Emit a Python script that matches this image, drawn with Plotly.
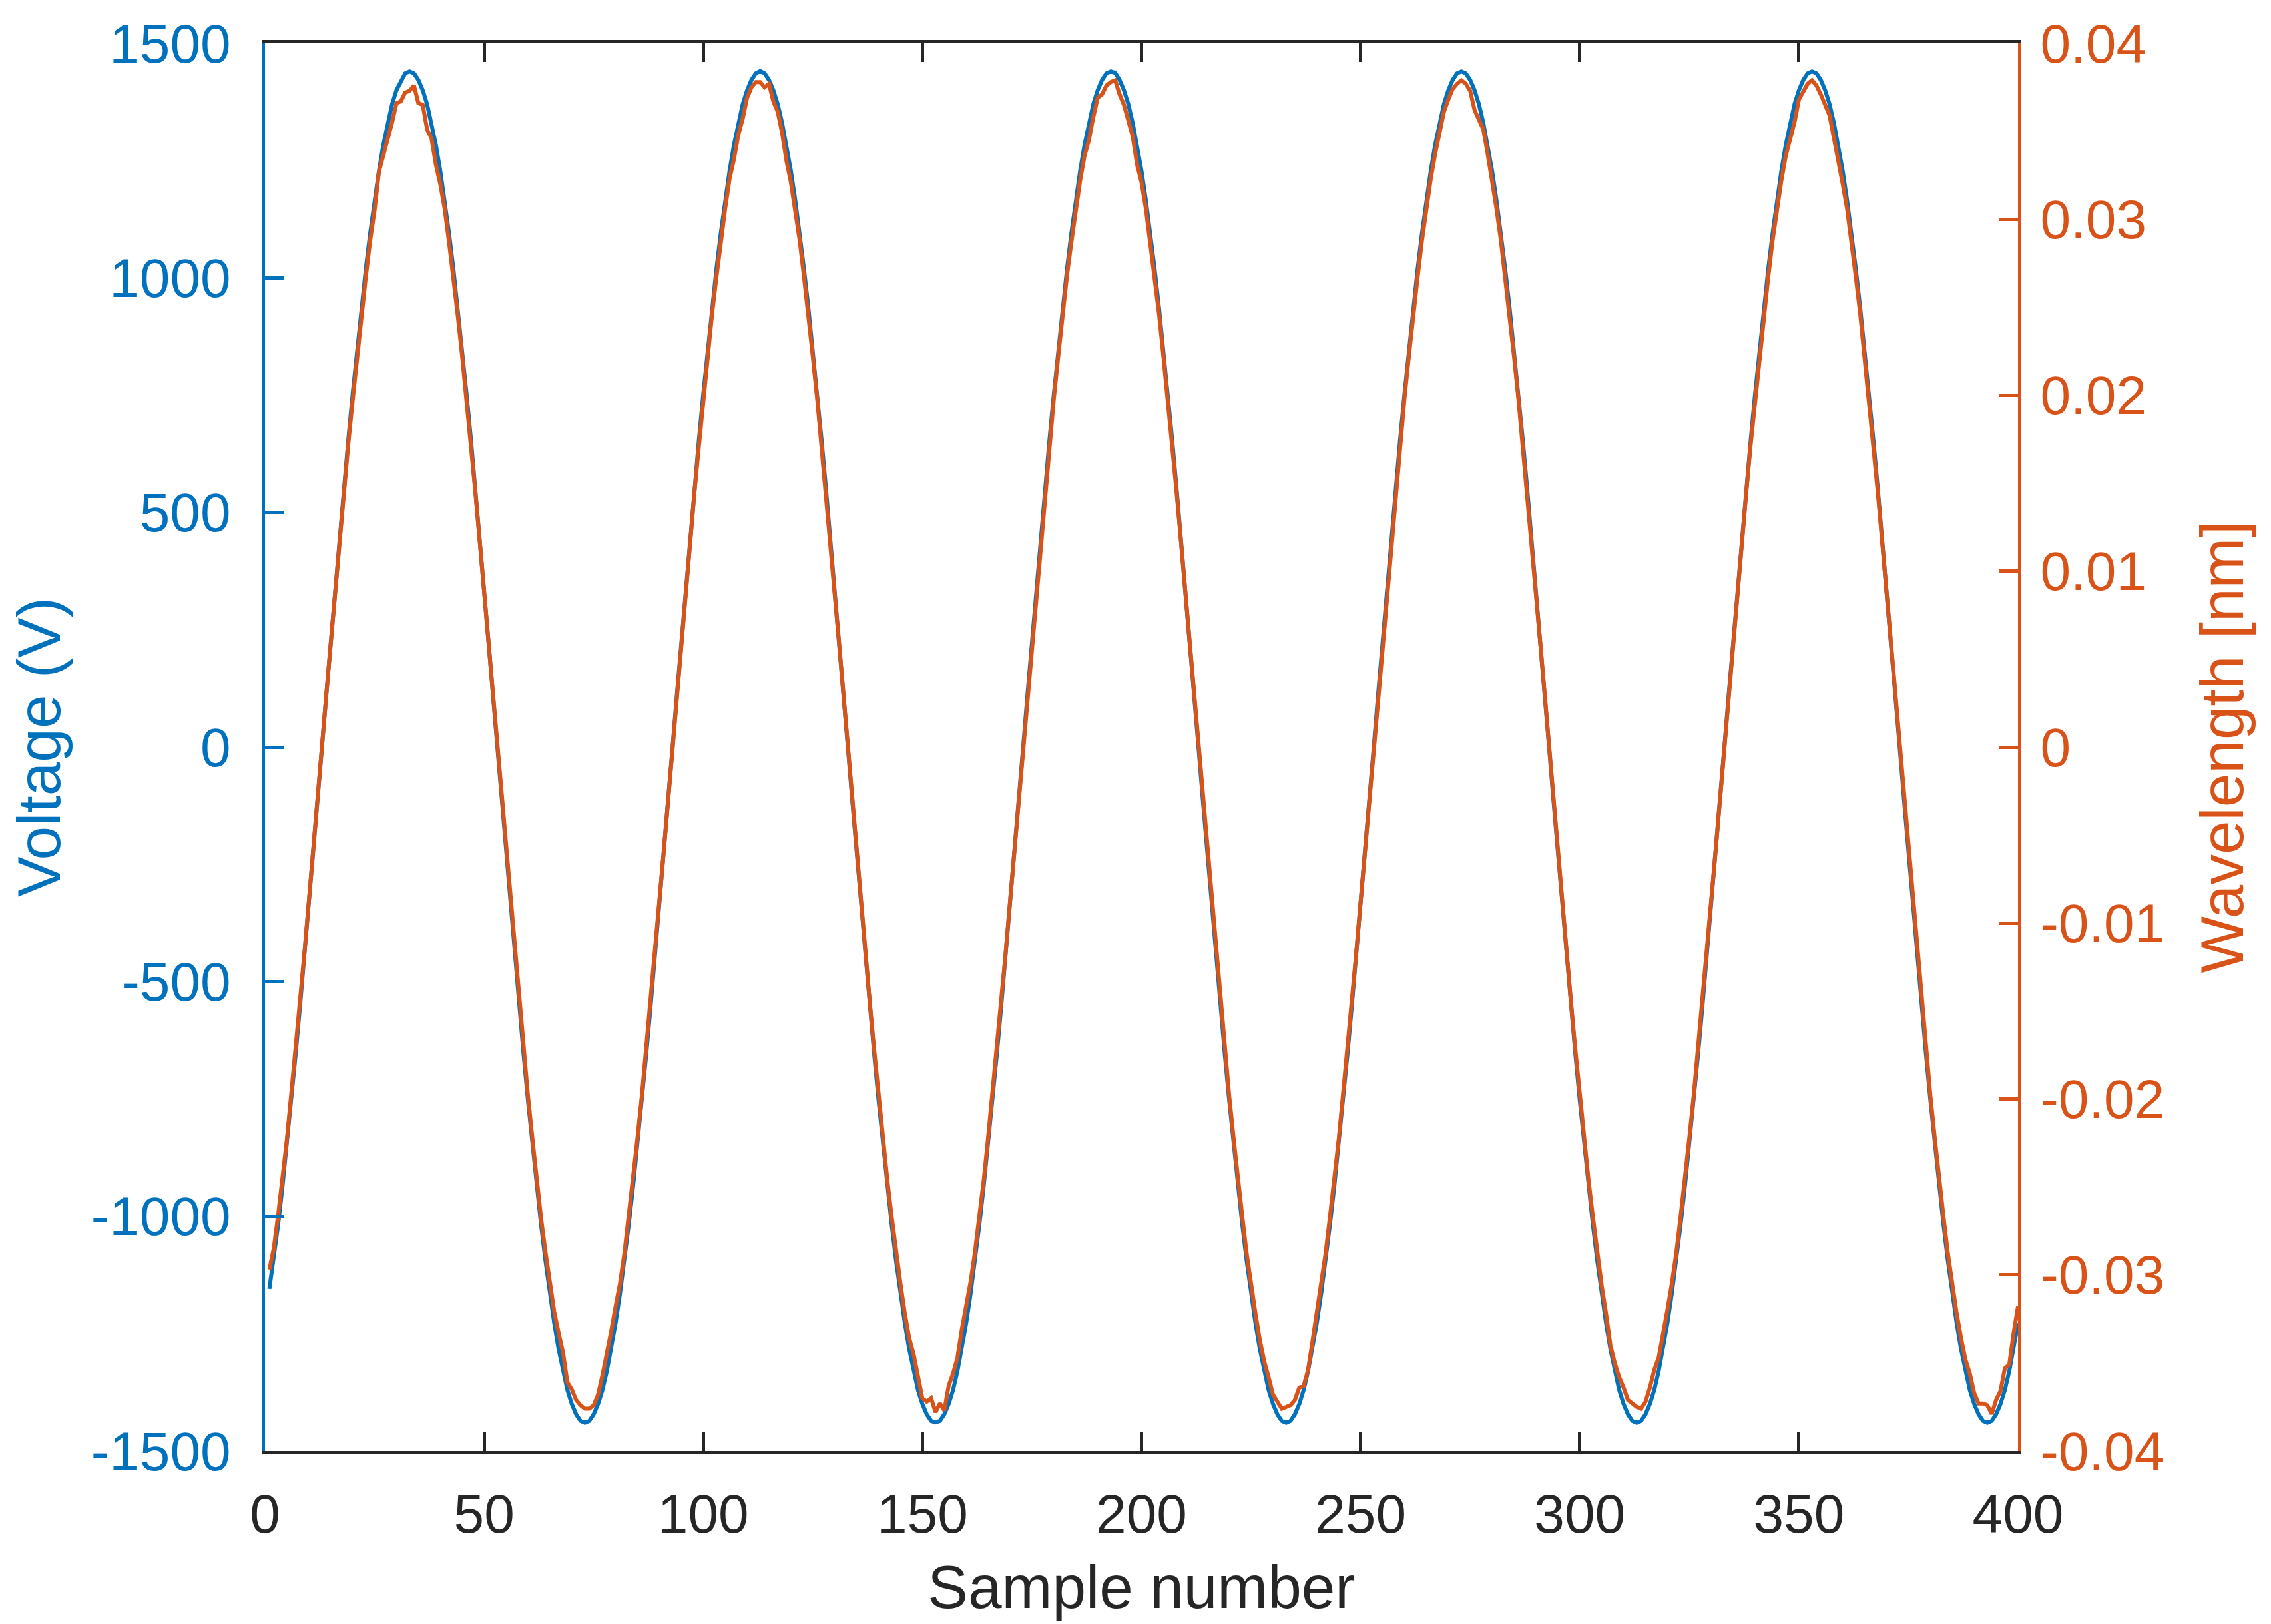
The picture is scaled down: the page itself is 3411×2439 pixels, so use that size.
import plotly.graph_objects as go

# sample index of the acquisition
sample_number = list(range(1, 401))

# voltage applied (V), one value per sample
voltage = [
    -1155, -1093, -1018, -935, -846, -752, -654, -551, -445, -336, -225, -113, 0, 113, 225, 336, 445, 551, 654, 752,
    846, 935, 1018, 1095, 1165, 1228, 1283, 1330, 1370, 1400, 1420, 1436, 1440, 1436, 1422, 1400, 1370, 1330, 1283, 1228,
    1165, 1095, 1018, 935, 846, 752, 654, 551, 445, 336, 225, 113, 0, -113, -225, -336, -445, -551, -654, -752,
    -846, -935, -1018, -1095, -1165, -1228, -1283, -1330, -1370, -1400, -1422, -1436, -1440, -1436, -1422, -1400, -1370, -1330, -1283, -1228,
    -1165, -1095, -1018, -935, -846, -752, -654, -551, -445, -336, -225, -113, 0, 113, 225, 336, 445, 551, 654, 752,
    846, 935, 1018, 1095, 1165, 1228, 1283, 1330, 1370, 1400, 1422, 1436, 1441, 1436, 1422, 1400, 1370, 1330, 1283, 1228,
    1165, 1095, 1018, 935, 846, 752, 654, 551, 445, 336, 225, 113, 0, -113, -225, -336, -445, -551, -654, -752,
    -846, -935, -1018, -1095, -1165, -1228, -1283, -1330, -1370, -1400, -1422, -1436, -1439, -1436, -1422, -1400, -1370, -1330, -1283, -1228,
    -1165, -1095, -1018, -935, -846, -752, -654, -551, -445, -336, -225, -113, 0, 113, 225, 336, 445, 551, 654, 752,
    846, 935, 1018, 1095, 1165, 1228, 1283, 1330, 1370, 1400, 1422, 1436, 1440, 1437, 1422, 1400, 1370, 1330, 1283, 1228,
    1165, 1095, 1018, 935, 846, 752, 654, 551, 445, 336, 225, 113, 0, -113, -225, -336, -445, -551, -654, -752,
    -846, -935, -1018, -1095, -1165, -1228, -1283, -1330, -1370, -1400, -1422, -1436, -1440, -1436, -1422, -1400, -1370, -1330, -1283, -1228,
    -1165, -1095, -1018, -935, -846, -752, -654, -551, -445, -336, -225, -113, 0, 113, 225, 336, 445, 551, 654, 752,
    846, 935, 1018, 1095, 1165, 1228, 1283, 1330, 1370, 1400, 1422, 1436, 1440, 1436, 1422, 1400, 1370, 1330, 1283, 1228,
    1165, 1095, 1018, 935, 846, 752, 654, 551, 445, 336, 225, 113, 0, -113, -225, -336, -445, -551, -654, -752,
    -846, -935, -1018, -1095, -1165, -1228, -1283, -1330, -1370, -1400, -1422, -1436, -1440, -1436, -1422, -1400, -1370, -1330, -1283, -1228,
    -1165, -1095, -1018, -935, -846, -752, -654, -551, -445, -336, -225, -113, 0, 113, 225, 336, 445, 551, 654, 752,
    846, 935, 1018, 1095, 1165, 1228, 1283, 1330, 1370, 1400, 1422, 1436, 1440, 1436, 1422, 1400, 1370, 1330, 1283, 1228,
    1165, 1095, 1018, 935, 846, 752, 654, 551, 445, 336, 225, 113, 0, -113, -225, -336, -445, -551, -654, -752,
    -846, -935, -1018, -1095, -1165, -1228, -1283, -1330, -1370, -1400, -1422, -1436, -1440, -1436, -1422, -1400, -1370, -1330, -1283, -1228,
]

# measured wavelength shift (nm), orange trace
wavelength = [
    -0.0297, -0.0285, -0.0266, -0.0245, -0.0223, -0.0197, -0.0172, -0.0144, -0.0117, -0.0088, -0.0060, -0.0030, 0.0000, 0.0030, 0.0059, 0.0088, 0.0117, 0.0144, 0.0172, 0.0197,
    0.0222, 0.0246, 0.0267, 0.0288, 0.0305, 0.0327, 0.0336, 0.0347, 0.0355, 0.0366, 0.0367, 0.0372, 0.0373, 0.0376, 0.0366, 0.0365, 0.0351, 0.0346, 0.0331, 0.0320,
    0.0306, 0.0287, 0.0267, 0.0245, 0.0222, 0.0198, 0.0171, 0.0145, 0.0117, 0.0088, 0.0059, 0.0030, 0.0000, -0.0030, -0.0059, -0.0088, -0.0117, -0.0145, -0.0172, -0.0198,
    -0.0222, -0.0246, -0.0268, -0.0287, -0.0306, -0.0321, -0.0333, -0.0344, -0.0361, -0.0365, -0.0371, -0.0374, -0.0376, -0.0376, -0.0374, -0.0368, -0.0357, -0.0345, -0.0332, -0.0318,
    -0.0305, -0.0288, -0.0267, -0.0246, -0.0222, -0.0198, -0.0171, -0.0145, -0.0117, -0.0088, -0.0059, -0.0030, 0.0000, 0.0030, 0.0059, 0.0089, 0.0117, 0.0145, 0.0171, 0.0198,
    0.0222, 0.0246, 0.0267, 0.0288, 0.0306, 0.0323, 0.0334, 0.0348, 0.0357, 0.0369, 0.0375, 0.0378, 0.0378, 0.0375, 0.0377, 0.0367, 0.0361, 0.0349, 0.0333, 0.0321,
    0.0305, 0.0288, 0.0267, 0.0246, 0.0222, 0.0198, 0.0171, 0.0145, 0.0117, 0.0088, 0.0059, 0.0030, 0.0000, -0.0030, -0.0059, -0.0088, -0.0117, -0.0145, -0.0172, -0.0198,
    -0.0222, -0.0246, -0.0267, -0.0288, -0.0305, -0.0322, -0.0336, -0.0345, -0.0359, -0.0370, -0.0372, -0.0370, -0.0378, -0.0373, -0.0377, -0.0363, -0.0356, -0.0347, -0.0331, -0.0318,
    -0.0304, -0.0287, -0.0267, -0.0246, -0.0222, -0.0197, -0.0172, -0.0145, -0.0117, -0.0088, -0.0059, -0.0030, 0.0000, 0.0029, 0.0059, 0.0088, 0.0117, 0.0145, 0.0172, 0.0198,
    0.0222, 0.0246, 0.0268, 0.0287, 0.0306, 0.0322, 0.0336, 0.0345, 0.0358, 0.0369, 0.0371, 0.0376, 0.0378, 0.0379, 0.0371, 0.0365, 0.0356, 0.0347, 0.0331, 0.0321,
    0.0306, 0.0287, 0.0267, 0.0246, 0.0222, 0.0198, 0.0171, 0.0145, 0.0117, 0.0088, 0.0059, 0.0030, 0.0000, -0.0030, -0.0059, -0.0088, -0.0117, -0.0145, -0.0171, -0.0198,
    -0.0222, -0.0246, -0.0267, -0.0288, -0.0306, -0.0322, -0.0337, -0.0349, -0.0358, -0.0368, -0.0372, -0.0376, -0.0375, -0.0374, -0.0371, -0.0364, -0.0363, -0.0354, -0.0338, -0.0321,
    -0.0305, -0.0288, -0.0267, -0.0246, -0.0223, -0.0197, -0.0172, -0.0145, -0.0117, -0.0088, -0.0059, -0.0030, 0.0000, 0.0030, 0.0059, 0.0088, 0.0117, 0.0145, 0.0171, 0.0198,
    0.0222, 0.0246, 0.0267, 0.0288, 0.0306, 0.0323, 0.0337, 0.0350, 0.0361, 0.0368, 0.0374, 0.0377, 0.0379, 0.0377, 0.0373, 0.0362, 0.0357, 0.0351, 0.0337, 0.0322,
    0.0306, 0.0288, 0.0267, 0.0246, 0.0222, 0.0198, 0.0171, 0.0145, 0.0117, 0.0088, 0.0059, 0.0030, 0.0000, -0.0030, -0.0059, -0.0088, -0.0117, -0.0145, -0.0172, -0.0198,
    -0.0222, -0.0246, -0.0267, -0.0288, -0.0306, -0.0322, -0.0340, -0.0350, -0.0358, -0.0364, -0.0371, -0.0373, -0.0375, -0.0376, -0.0372, -0.0364, -0.0354, -0.0347, -0.0334, -0.0320,
    -0.0305, -0.0288, -0.0267, -0.0246, -0.0222, -0.0198, -0.0171, -0.0145, -0.0117, -0.0088, -0.0059, -0.0030, 0.0000, 0.0030, 0.0059, 0.0088, 0.0117, 0.0145, 0.0172, 0.0197,
    0.0222, 0.0246, 0.0267, 0.0288, 0.0306, 0.0322, 0.0336, 0.0346, 0.0355, 0.0368, 0.0373, 0.0377, 0.0379, 0.0376, 0.0371, 0.0365, 0.0359, 0.0346, 0.0334, 0.0320,
    0.0306, 0.0288, 0.0267, 0.0246, 0.0222, 0.0198, 0.0171, 0.0145, 0.0117, 0.0088, 0.0059, 0.0030, 0.0000, -0.0030, -0.0059, -0.0088, -0.0117, -0.0145, -0.0172, -0.0198,
    -0.0222, -0.0246, -0.0267, -0.0288, -0.0306, -0.0322, -0.0336, -0.0348, -0.0356, -0.0367, -0.0373, -0.0373, -0.0374, -0.0379, -0.0371, -0.0366, -0.0353, -0.0351, -0.0333, -0.0318,
]

x_ticks = [0, 50, 100, 150, 200, 250, 300, 350, 400]
x_labels = ["0", "50", "100", "150", "200", "250", "300", "350", "400"]
v_ticks = [-1500, -1000, -500, 0, 500, 1000, 1500]
v_labels = ["-1500", "-1000", "-500", "0", "500", "1000", "1500"]
w_ticks = [-0.04, -0.03, -0.02, -0.01, 0, 0.01, 0.02, 0.03, 0.04]
w_labels = ["-0.04", "-0.03", "-0.02", "-0.01", "0", "0.01", "0.02", "0.03", "0.04"]

BLUE = "#0072BD"
ORANGE = "#D95319"
DARK = "#262626"
FONT = "Liberation Sans, Arial, sans-serif"

volt = go.Scatter(x=sample_number, y=voltage, mode="lines", name="Voltage",
                  line=dict(color=BLUE, width=6))
wave = go.Scatter(x=sample_number, y=wavelength, mode="lines", name="Wavelength",
                  line=dict(color=ORANGE, width=6), yaxis="y2")

layout = go.Layout(
    width=3411,
    height=2439,
    margin=dict(l=390, r=388, t=57, b=268),
    paper_bgcolor="white",
    plot_bgcolor="white",
    showlegend=False,
    font=dict(family=FONT, size=82, color=DARK),
    xaxis=dict(range=[0, 400], tickvals=x_ticks, ticktext=x_labels,
               ticks="inside", ticklen=28, tickwidth=5, tickcolor=DARK,
               showline=True, linecolor=DARK, linewidth=5, mirror="ticks",
               showgrid=False, zeroline=False,
               tickfont=dict(size=82, color=DARK), ticklabelstandoff=20,
               title=dict(text="Sample number", font=dict(size=91, color=DARK), standoff=34)),
    yaxis=dict(range=[-1500, 1500], tickvals=v_ticks, ticktext=v_labels,
               ticks="inside", ticklen=28, tickwidth=5, tickcolor=BLUE,
               showline=True, linecolor=BLUE, linewidth=5,
               showgrid=False, zeroline=False,
               tickfont=dict(size=82, color=BLUE), ticklabelstandoff=30,
               title=dict(text="Voltage (V)", font=dict(size=91, color=BLUE), standoff=26)),
    yaxis2=dict(range=[-0.04, 0.04], tickvals=w_ticks, ticktext=w_labels,
                overlaying="y", side="right",
                ticks="inside", ticklen=28, tickwidth=5, tickcolor=ORANGE,
                showline=True, linecolor=ORANGE, linewidth=5,
                showgrid=False, zeroline=False,
                tickfont=dict(size=82, color=ORANGE), ticklabelstandoff=12,
                title=dict(text="Wavelength [nm]", font=dict(size=91, color=ORANGE), standoff=56)),
)

fig = go.Figure(data=[volt, wave], layout=layout)
fig.write_html("out.html")
